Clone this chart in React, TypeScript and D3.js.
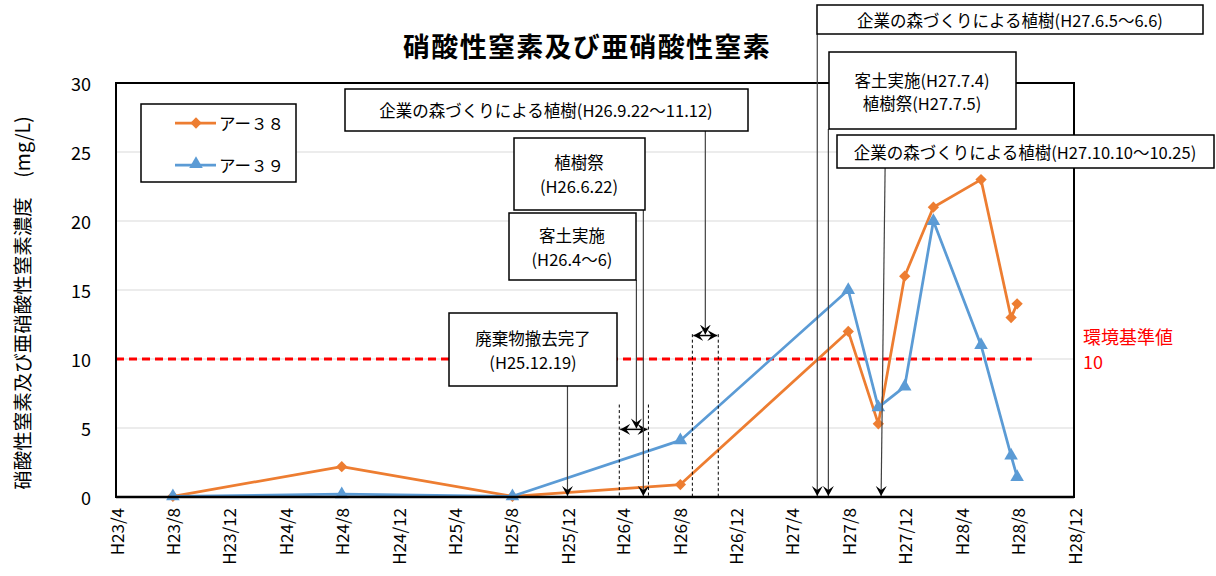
import React from 'react';
import * as d3 from 'd3';

// ---------- data ----------
const sampleDates = [
  '2011-08-02', '2012-08-01', '2013-08-05', '2014-08-03', '2015-08-01',
  '2015-10-05', '2015-12-01', '2016-02-01', '2016-05-14', '2016-07-18', '2016-07-31',
];
const valuesA38 = [0.05, 2.2, 0.05, 0.9, 12, 5.3, 16, 21, 23, 13, 14];
const valuesA39 = [0.05, 0.2, 0.05, 4.1, 15, 6.5, 8, 20, 11, 3, 1.45];
const seriesNames = ['アー３８', 'アー３９'];

const xTickLabels = [
  'H23/4', 'H23/8', 'H23/12', 'H24/4', 'H24/8', 'H24/12', 'H25/4', 'H25/8', 'H25/12',
  'H26/4', 'H26/8', 'H26/12', 'H27/4', 'H27/8', 'H27/12', 'H28/4', 'H28/8', 'H28/12',
];
const yTicks = [0, 5, 10, 15, 20, 25, 30];
const standardValue = 10;

// annotations: arrows pointing to the x axis
const arrowDates = ['2013-12-02', '2014-05-15', '2015-05-26', '2015-06-19', '2015-10-11'];
// ranges with double arrow [start, end, y value]
const rangeStarts = ['2014-03-24', '2014-08-29'];
const rangeEnds = ['2014-05-26', '2014-10-24'];
const rangeArrowValues = [4.9, 11.7];
const rangeDashTopValues = [6.7, 11.8];
const rangeCalloutDates = ['2014-04-30', '2014-09-26'];

// ---------- layout ----------
const W = 1216;
const H = 576;
const PL = 116, PR = 1074, PT = 83, PB = 497;
const FONT = '"Noto Sans CJK JP", "Noto Sans", sans-serif';
const ORANGE = '#ED7D31';
const BLUE = '#5B9BD5';

const parseDate = d3.timeParse('%Y-%m-%d');
const labelToDate = (s: string) => {
  const m = s.match(/H(\d+)\/(\d+)/)!;
  return new Date(1988 + +m[1], +m[2] - 1, 1);
};

export default function App() {
  const tickDates = xTickLabels.map(labelToDate);
  const x = d3.scaleTime().domain([tickDates[0], tickDates[tickDates.length - 1]]).range([PL, PR]);
  const y = d3.scaleLinear().domain([0, 30]).range([PB, PT]);

  const pts = (vals: number[]) => sampleDates.map((d, i) => [x(parseDate(d)!), y(vals[i])] as [number, number]);
  const p38 = pts(valuesA38);
  const p39 = pts(valuesA39);
  const line = d3.line();

  const diamond = d3.symbol(d3.symbolSquare, 64)()!;
  const triangle = d3.symbol(d3.symbolTriangle, 80)()!;

  const ax = arrowDates.map(d => x(parseDate(d)!));

  const box = (bx: number, by: number, bw: number, bh: number) => (
    <rect x={bx} y={by} width={bw} height={bh} fill="#fff" stroke="#000" strokeWidth={1.5} />
  );
  const txt = (tx: number, ty: number, s: string, size = 16.5, color = '#000', anchor = 'middle') => (
    <text x={tx} y={ty} fontSize={size} fill={color} textAnchor={anchor} dominantBaseline="central" fontFamily={FONT}>{s}</text>
  );

  return (
    <svg width={W} height={H} style={{ position: 'absolute', left: 0, top: 0, background: '#fff' }}>
      <defs>
        <marker id="ah" viewBox="-10 -6 12 12" refX={0} refY={0} markerWidth={12} markerHeight={12} markerUnits="userSpaceOnUse" orient="auto-start-reverse">
          <path d="M0,0 L-10,-5.5 L-6,0 L-10,5.5 Z" fill="#000" />
        </marker>
      </defs>
      <rect width={W} height={H} fill="#fff" />

      {/* title */}
      <text x={587} y={45} fontSize={27} fontWeight="bold" textAnchor="middle" dominantBaseline="central" fontFamily={FONT} letterSpacing={1.3}>
        硝酸性窒素及び亜硝酸性窒素
      </text>

      {/* grid */}
      {yTicks.filter(t => t > 0 && t < 30).map(t => (
        <line key={t} x1={PL} x2={PR} y1={y(t)} y2={y(t)} stroke="#d9d9d9" strokeWidth={1} />
      ))}

      {/* y tick labels */}
      {yTicks.map(t => (
        <text key={t} x={91} y={y(t)} fontSize={18} textAnchor="end" dominantBaseline="central" fontFamily={FONT}>{t}</text>
      ))}
      {/* y axis title */}
      <text transform={`translate(21,${303}) rotate(-90)`} fontSize={19.5} textAnchor="middle" dominantBaseline="central" fontFamily={FONT}>
        硝酸性窒素及び亜硝酸性窒素濃度　(mg/L)
      </text>

      {/* x tick labels */}
      {tickDates.map((d, i) => (
        <text key={i} transform={`translate(${x(d)},508) rotate(-90)`} fontSize={17} textAnchor="end" dominantBaseline="central" fontFamily={FONT}>
          {xTickLabels[i]}
        </text>
      ))}

      {/* standard line */}
      <line x1={PL} x2={x(parseDate('2016-09-01')!)} y1={y(standardValue)} y2={y(standardValue)} stroke="#FF0000" strokeWidth={3} strokeDasharray="8,5" />
      {txt(1083, 336, '環境基準値', 18, '#FF0000', 'start')}
      {txt(1083, 361, String(standardValue), 18, '#FF0000', 'start')}

      {/* series */}
      <path d={line(p38)!} fill="none" stroke={ORANGE} strokeWidth={2.75} strokeLinejoin="round" />
      {p38.map((p, i) => (
        <path key={i} d={diamond} transform={`translate(${p[0]},${p[1]}) rotate(45)`} fill={ORANGE} />
      ))}
      <path d={line(p39)!} fill="none" stroke={BLUE} strokeWidth={2.75} strokeLinejoin="round" />
      {p39.map((p, i) => (
        <path key={i} d={triangle} transform={`translate(${p[0]},${p[1]})`} fill={BLUE} />
      ))}

      {/* plot border */}
      <rect x={PL} y={PT} width={PR - PL} height={PB - PT} fill="none" stroke="#000" strokeWidth={2} />
      <line x1={PL} x2={PR} y1={PB} y2={PB} stroke="#000" strokeWidth={2.5} />

      {/* legend */}
      {box(141, 104, 155, 78)}
      <line x1={175} x2={216} y1={123} y2={123} stroke={ORANGE} strokeWidth={2.75} />
      <path d={diamond} transform="translate(196,123) rotate(45)" fill={ORANGE} />
      {txt(219, 123, seriesNames[0], 16.5, '#000', 'start')}
      <line x1={175} x2={216} y1={165} y2={165} stroke={BLUE} strokeWidth={2.75} />
      <path d={triangle} transform="translate(196,164)" fill={BLUE} />
      {txt(219, 165, seriesNames[1], 16.5, '#000', 'start')}

      {/* range markers (dashed verticals + double arrows) */}
      {rangeStarts.map((s, i) => {
        const xs = x(parseDate(s)!);
        const xe = x(parseDate(rangeEnds[i])!);
        const ya = y(rangeArrowValues[i]);
        const yt = y(rangeDashTopValues[i]);
        const xc = x(parseDate(rangeCalloutDates[i])!);
        return (
          <g key={i}>
            <line x1={xs} x2={xs} y1={yt} y2={PB} stroke="#000" strokeWidth={1} strokeDasharray="3,2.5" />
            <line x1={xe} x2={xe} y1={yt} y2={PB} stroke="#000" strokeWidth={1} strokeDasharray="3,2.5" />
            <line x1={xs + 1} x2={xe - 1} y1={ya} y2={ya} stroke="#000" strokeWidth={1.5} markerStart="url(#ah)" markerEnd="url(#ah)" />
            <line x1={xc} x2={xc} y1={i === 0 ? 280 : 131} y2={ya - 1} stroke="#404040" strokeWidth={1.2} markerEnd="url(#ah)" />
          </g>
        );
      })}

      {/* callout arrows to x axis */}
      <line x1={ax[0]} x2={ax[0]} y1={386} y2={PB - 1} stroke="#404040" strokeWidth={1.2} markerEnd="url(#ah)" />
      <line x1={ax[1]} x2={ax[1]} y1={210} y2={PB - 1} stroke="#404040" strokeWidth={1.2} markerEnd="url(#ah)" />
      <line x1={ax[2]} x2={ax[2]} y1={34} y2={PB - 1} stroke="#404040" strokeWidth={1.2} markerEnd="url(#ah)" />
      <line x1={ax[3]} x2={ax[3]} y1={129} y2={PB - 1} stroke="#404040" strokeWidth={1.2} markerEnd="url(#ah)" />
      <line x1={ax[4] + 4} x2={ax[4]} y1={168} y2={PB - 1} stroke="#404040" strokeWidth={1.2} markerEnd="url(#ah)" />

      {/* annotation boxes */}
      {box(345, 89, 403, 42)}
      {txt(546, 110, '企業の森づくりによる植樹(H26.9.22～11.12)')}

      {box(514, 138, 131, 72)}
      {txt(579, 162, '植樹祭')}
      {txt(579, 186, '(H26.6.22)')}

      {box(509, 213, 127, 67)}
      {txt(572, 235, '客土実施')}
      {txt(572, 259, '(H26.4～6)')}

      {box(449, 313, 168, 73)}
      {txt(533, 338, '廃棄物撤去完了')}
      {txt(533, 362, '(H25.12.19)')}

      {box(817, 5, 386, 29)}
      {txt(1010, 20, '企業の森づくりによる植樹(H27.6.5～6.6)')}

      {box(829, 52, 187, 77)}
      {txt(922, 80, '客土実施(H27.7.4)')}
      {txt(922, 103, '植樹祭(H27.7.5)')}

      {box(837, 135, 377, 33)}
      {txt(1025, 152, '企業の森づくりによる植樹(H27.10.10～10.25)')}
    </svg>
  );
}
